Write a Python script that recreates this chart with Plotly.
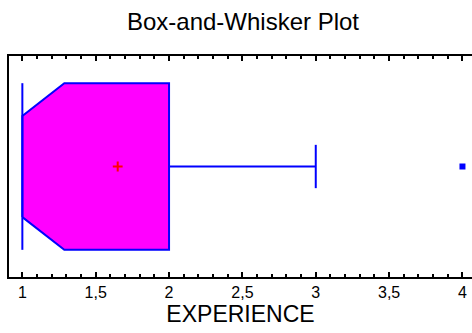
import plotly.graph_objects as go

# Summary statistics
variable = "EXPERIENCE"
q1 = 1.0
median = 1.0
q3 = 2.0
whisker_low = 1.0
whisker_high = 3.0
notch_high = 1.286
mean_value = 1.65
outliers = [4.0]
tick_values = [1, 1.5, 2, 2.5, 3, 3.5, 4]
tick_labels = ["1", "1,5", "2", "2,5", "3", "3,5", "4"]

# vertical geometry (in unit y space)
yc = 0.5
box_h = 0.377
notch_h = 0.229
cap_h = 0.098

fig = go.Figure()

# notched box
fig.add_trace(go.Scatter(
    x=[q1, q1, notch_high, q3, q3, notch_high, q1],
    y=[yc - notch_h, yc + notch_h, yc + box_h, yc + box_h, yc - box_h, yc - box_h, yc - notch_h],
    mode="lines", fill="toself", fillcolor="#FF00FF",
    line=dict(color="#0000FF", width=2), hoverinfo="skip"))
# median line
fig.add_trace(go.Scatter(x=[median, median], y=[yc - box_h, yc + box_h], mode="lines",
                         line=dict(color="#0000FF", width=2), hoverinfo="skip"))
# upper whisker
fig.add_trace(go.Scatter(x=[q3, whisker_high], y=[yc, yc], mode="lines",
                         line=dict(color="#0000FF", width=2), hoverinfo="skip"))
fig.add_trace(go.Scatter(x=[whisker_high, whisker_high], y=[yc - cap_h, yc + cap_h], mode="lines",
                         line=dict(color="#0000FF", width=2), hoverinfo="skip"))
# lower whisker (coincides with q1)
fig.add_trace(go.Scatter(x=[whisker_low, q1], y=[yc, yc], mode="lines",
                         line=dict(color="#0000FF", width=2), hoverinfo="skip"))
# outliers
fig.add_trace(go.Scatter(x=outliers, y=[yc] * len(outliers), mode="markers",
                         marker=dict(symbol="square", size=6, color="#0000FF"), hoverinfo="skip"))
# mean
fig.add_trace(go.Scatter(x=[mean_value], y=[yc], mode="markers",
                         marker=dict(symbol="cross-thin", size=7, color="red",
                                     line=dict(color="red", width=2)), hoverinfo="skip"))

fig.update_layout(
    width=472, height=333,
    margin=dict(l=9, r=0, t=56, b=56, autoexpand=False),
    paper_bgcolor="white", plot_bgcolor="white",
    showlegend=False,
    font=dict(family="Liberation Sans, Arial, sans-serif", color="black"),
    title=dict(text="Box-and-Whisker Plot", x=243 / 472, xanchor="center",
               y=0.934, yref="container", yanchor="middle",
               font=dict(size=24, color="black"), automargin=False),
)
fig.update_xaxes(
    range=[0.909, 4.065], showgrid=False, zeroline=False, automargin=False,
    showline=True, linecolor="black", linewidth=2, mirror="allticks",
    ticks="inside", ticklen=5, tickwidth=2, tickcolor="black",
    tickmode="array", tickvals=tick_values, ticktext=tick_labels,
    tickfont=dict(size=16),
    minor=dict(tickmode="linear", tick0=0, dtick=0.1, ticks="inside", ticklen=3,
               tickwidth=1.5, tickcolor="black", showgrid=False),
    title=dict(text=variable, font=dict(size=23), standoff=4),
)
fig.update_yaxes(
    range=[0, 1], showgrid=False, zeroline=False, showticklabels=False, automargin=False,
    showline=True, linecolor="black", linewidth=2, mirror=False, ticks="",
)

fig.write_html(
    "out.html",
    config={"displayModeBar": False},
    post_script="document.body.style.margin='0';document.body.style.overflow='hidden';",
)
